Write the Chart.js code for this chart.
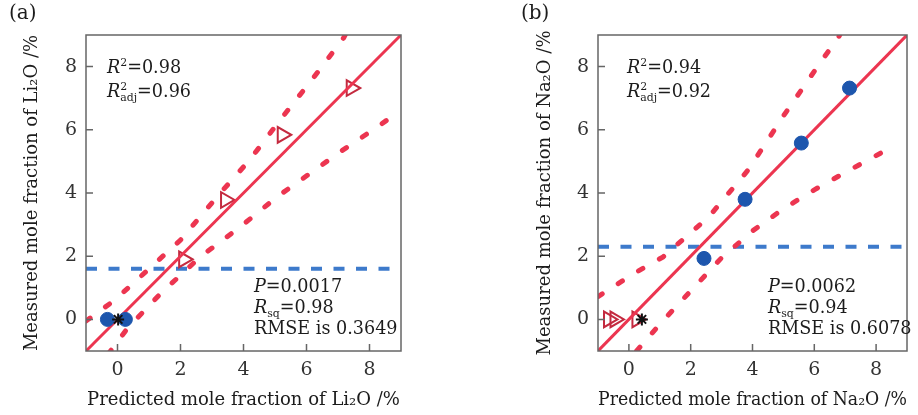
<!DOCTYPE html>
<html>
<head>
<meta charset="utf-8">
<script src="https://cdn.jsdelivr.net/npm/chart.js@4"></script>
<style>
  html, body { margin: 0; padding: 0; background: #fff; }
  body { width: 918px; height: 415px; position: relative; overflow: hidden; }
  .panel { position: absolute; top: 0; width: 459px; height: 415px; }
  #pa { left: 0; }
  #pb { left: 459px; }
</style>
</head>
<body>
<div class="panel" id="pa"><canvas id="chart-a"></canvas></div>
<div class="panel" id="pb"><canvas id="chart-b"></canvas></div>
<script>
// =============================
// DATOS
// =============================
const tickVals = [0, 2, 4, 6, 8];
const fitX = [-1, 9];
const fitY = [-1, 9];

// panel (a) Li2O
const upperAX = [-1, -0.1, 1, 2, 3.16, 4.2, 5.17, 6.2, 7.18, 7.25];
const upperAY = [-0.05, 0.6, 1.6, 2.51, 3.88, 5.05, 6.32, 7.62, 8.91, 9.05];
const lowerAX = [-0.3, -0.13, 0.31, 1.37, 2.63, 3.9, 5.07, 7.08, 8.35, 9];
const lowerAY = [-1.1, -0.88, -0.29, 0.82, 1.98, 2.93, 3.88, 5.31, 6.16, 6.63];
const limitA = 1.6;
const circlesAX = [-0.32, 0.25];
const circlesAY = [0, 0];
const triAX = [2.1, 3.43, 5.23, 7.42];
const triAY = [1.9, 3.78, 5.84, 7.32];
const starAX = [0.02];
const starAY = [0];
const statsA = ["0.98", "0.96", "0.0017", "0.98", "0.3649"];

// panel (b) Na2O
const upperBX = [-1, 0.16, 1.11, 2.59, 3.86, 5.03, 6.19, 6.77, 6.85];
const upperBY = [0.72, 1.45, 1.98, 3.25, 4.73, 6.48, 8.12, 8.91, 9.05];
const lowerBX = [0.25, 1.0, 2.0, 3.0, 4.0, 5.0, 6.0, 7.0, 8.5];
const lowerBY = [-1.0, -0.15, 0.9, 1.95, 2.8, 3.5, 4.1, 4.65, 5.45];
const limitB = 2.3;
const circlesBX = [2.43, 3.76, 5.58, 7.14];
const circlesBY = [1.93, 3.8, 5.58, 7.32];
const triBX = [-0.66, -0.45, 0.26];
const triBY = [0, 0, 0];
const starBX = [0.42];
const starBY = [0];
const statsB = ["0.94", "0.92", "0.0062", "0.94", "0.6078"];

// =============================
// ESTILOS
// =============================
const ROJO = "#ec3550";
const ROJO_OSC = "#c42a3f";
const AZUL = "#1d56ad";
const AZUL_CLARO = "#3d7acb";
const TEXTO = "#1c1c1c";
const SERIF = '"DejaVu Serif", "Liberation Serif", serif';

function puntos(xs, ys) {
  return xs.map((x, i) => ({ x, y: ys[i] }));
}

// texto con super/subindices
function drawParts(ctx, x, y, parts, size) {
  let cx = x, hold = 0;
  parts.forEach(p => {
    const small = p.sup || p.sub;
    const fs = small ? size * 0.62 : size;
    ctx.font = (p.it ? "italic " : "") + fs + "px " + SERIF;
    const dy = p.sup ? -size * 0.42 : p.sub ? size * 0.2 : 0;
    ctx.fillText(p.t, cx, y + dy);
    const w = ctx.measureText(p.t).width;
    if (p.hold) {
      hold = w;
    } else {
      cx += Math.max(w, hold);
      hold = 0;
    }
  });
}

// marco, ticks internos y anotaciones
function panelPlugin(label, stats, topX, botX) {
  return {
    id: "panel" + label.pos,
    afterDatasetsDraw(chart) {
      const { ctx, chartArea: a, scales } = chart;
      ctx.save();
      ctx.strokeStyle = "#666";
      ctx.lineWidth = 1.5;
      ctx.strokeRect(a.left, a.top, a.right - a.left, a.bottom - a.top);
      ctx.beginPath();
      tickVals.forEach(v => {
        const px = scales.x.getPixelForValue(v);
        ctx.moveTo(px, a.bottom);
        ctx.lineTo(px, a.bottom - 7);
        const py = scales.y.getPixelForValue(v);
        ctx.moveTo(a.left, py);
        ctx.lineTo(a.left + 7, py);
      });
      ctx.stroke();
      ctx.restore();
    },
    afterDraw(chart) {
      const { ctx } = chart;
      const s = 17.6;
      ctx.save();
      ctx.fillStyle = TEXTO;
      ctx.textBaseline = "alphabetic";
      ctx.textAlign = "left";
      drawParts(ctx, topX, 73, [{ t: "R", it: true }, { t: "2", sup: true }, { t: "=" + stats[0] }], s);
      drawParts(ctx, topX, 97, [{ t: "R", it: true }, { t: "2", sup: true, hold: true }, { t: "adj", sub: true }, { t: "=" + stats[1] }], s);
      drawParts(ctx, botX, 292, [{ t: "P", it: true }, { t: "=" + stats[2] }], s);
      drawParts(ctx, botX, 313, [{ t: "R", it: true }, { t: "sq", sub: true }, { t: "=" + stats[3] }], s);
      drawParts(ctx, botX, 334, [{ t: "RMSE is " + stats[4] }], s);
      ctx.font = "20px " + SERIF;
      ctx.textBaseline = "middle";
      ctx.fillText(label.pos, label.x, 14);
      ctx.restore();
    }
  };
}

function crearPanel(id, cfg) {
  return new Chart(document.getElementById(id), {
    type: "scatter",
    data: {
      datasets: [
        {
          data: puntos(cfg.starX, cfg.starY),
          pointStyle: "star",
          pointRadius: 6,
          borderColor: "#111",
          borderWidth: 2,
          order: 0
        },
        {
          data: puntos(cfg.circX, cfg.circY),
          pointStyle: "circle",
          pointRadius: 7,
          backgroundColor: AZUL,
          borderColor: AZUL,
          borderWidth: 1,
          order: 1
        },
        {
          data: puntos(fitX, fitY),
          showLine: true,
          borderColor: ROJO,
          borderWidth: 3,
          pointRadius: 0,
          order: 2
        },
        {
          data: puntos(cfg.triX, cfg.triY),
          pointStyle: "triangle",
          rotation: 90,
          pointRadius: 9,
          backgroundColor: "rgba(0,0,0,0)",
          borderColor: ROJO_OSC,
          borderWidth: 2,
          order: 3
        },
        {
          data: puntos(cfg.upX, cfg.upY),
          showLine: true,
          borderColor: ROJO,
          borderWidth: 5,
          borderDash: [5, 19],
          borderCapStyle: "round",
          pointRadius: 0,
          order: 4
        },
        {
          data: puntos(cfg.loX, cfg.loY),
          showLine: true,
          borderColor: ROJO,
          borderWidth: 5,
          borderDash: [5, 19],
          borderCapStyle: "round",
          pointRadius: 0,
          order: 4
        },
        {
          data: puntos(fitX, [cfg.limit, cfg.limit]),
          showLine: true,
          borderColor: AZUL_CLARO,
          borderWidth: 4,
          borderDash: [11, 11.5],
          pointRadius: 0,
          order: 5
        }
      ]
    },
    options: {
      responsive: true,
      maintainAspectRatio: false,
      animation: false,
      layout: { padding: cfg.pad },
      plugins: {
        legend: { display: false },
        tooltip: { enabled: false }
      },
      scales: {
        x: {
          type: "linear",
          min: -1,
          max: 9,
          afterBuildTicks: s => { s.ticks = tickVals.map(v => ({ value: v })); },
          afterFit: s => { s.height = 60; },
          grid: { display: false, drawTicks: false },
          border: { display: false },
          ticks: { color: "#333", font: { family: SERIF, size: 19 }, padding: 8, maxRotation: 0 },
          title: {
            display: true,
            text: cfg.xTitle,
            color: TEXTO,
            font: { family: SERIF, size: 18 },
            padding: 0
          }
        },
        y: {
          type: "linear",
          min: -1,
          max: 9,
          afterBuildTicks: s => { s.ticks = tickVals.map(v => ({ value: v })); },
          afterFit: s => { s.width = cfg.yw; },
          grid: { display: false, drawTicks: false },
          border: { display: false },
          ticks: { color: "#333", font: { family: SERIF, size: 19 }, padding: 9 },
          title: {
            display: true,
            text: cfg.yTitle,
            color: TEXTO,
            font: { family: SERIF, size: 18 },
            padding: 0
          }
        }
      }
    },
    plugins: [panelPlugin(cfg.label, cfg.stats, cfg.topX, cfg.botX)]
  });
}

crearPanel("chart-a", {
  starX: starAX, starY: starAY,
  circX: circlesAX, circY: circlesAY,
  triX: triAX, triY: triAY,
  upX: upperAX, upY: upperAY,
  loX: lowerAX, loY: lowerAY,
  limit: limitA,
  stats: statsA,
  label: { pos: "(a)", x: 9 },
  topX: 107, botX: 254,
  xTitle: "Predicted mole fraction of Li\u2082O /%",
  yTitle: "Measured mole fraction of Li\u2082O /%",
  pad: { left: 22, right: 58, top: 35, bottom: 4 },
  yw: 64
});

crearPanel("chart-b", {
  starX: starBX, starY: starBY,
  circX: circlesBX, circY: circlesBY,
  triX: triBX, triY: triBY,
  upX: upperBX, upY: upperBY,
  loX: lowerBX, loY: lowerBY,
  limit: limitB,
  stats: statsB,
  label: { pos: "(b)", x: 62 },
  topX: 168, botX: 309,
  xTitle: "Predicted mole fraction of Na\u2082O /%",
  yTitle: "Measured mole fraction of Na\u2082O /%",
  pad: { left: 76, right: 5, top: 35, bottom: 4 },
  yw: 63
});
</script>
</body>
</html>
